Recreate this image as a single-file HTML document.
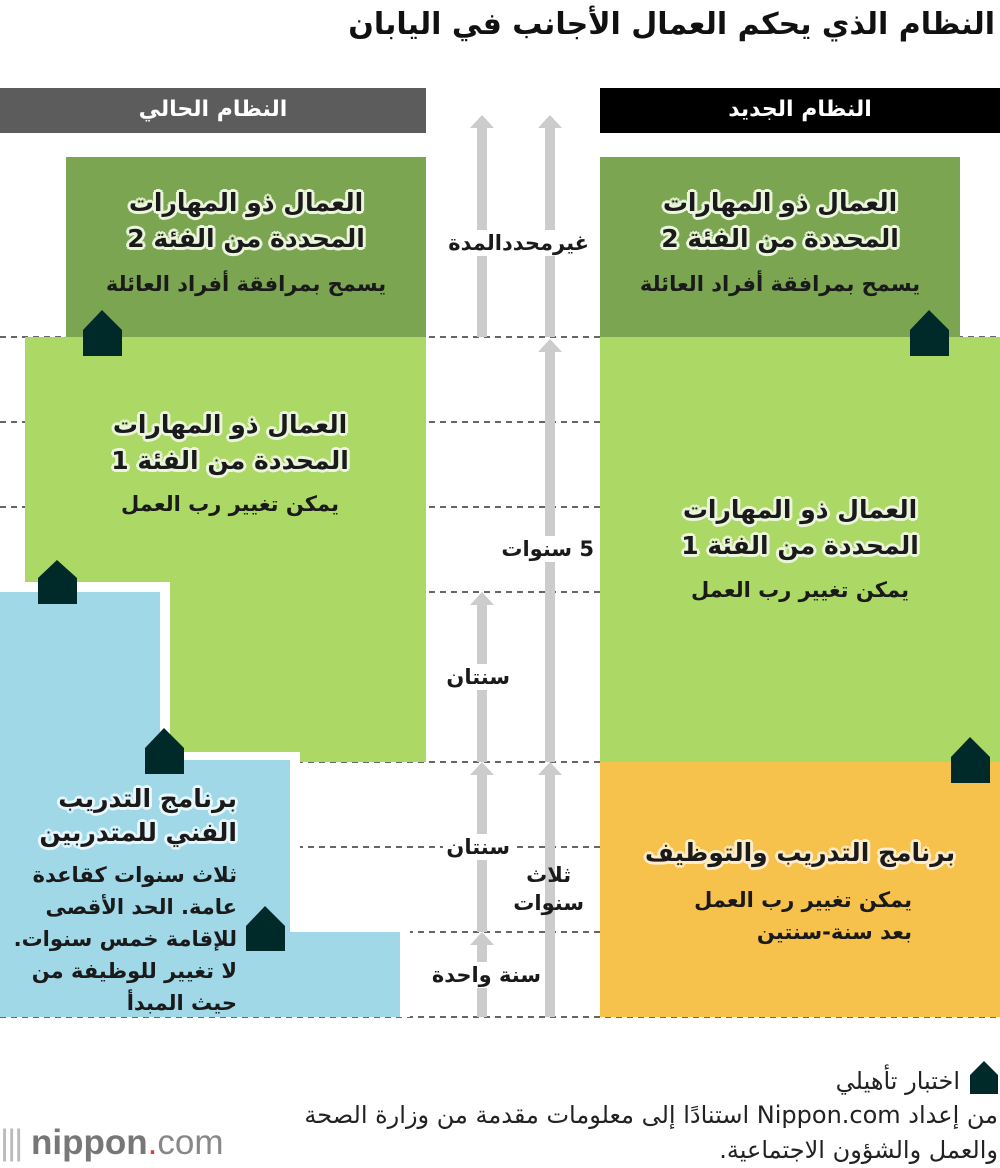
<!DOCTYPE html>
<html><head><meta charset="utf-8"><style>
body{margin:0;width:1000px;height:1168px;position:relative;background:#fff;overflow:hidden;font-family:"DejaVu Sans","Liberation Sans",sans-serif;}
.t{position:absolute;direction:rtl;white-space:nowrap;color:#1a1a1a;font-weight:bold;}
.c{text-align:center;}
.h{font-size:25px;line-height:36px;}
.s{font-size:21px;line-height:32px;}
.hg{text-shadow:0 0 3px #eaf5dc,2px 2px 0 #eaf5dc,-2px -2px 0 #eaf5dc,2px -2px 0 #eaf5dc,-2px 2px 0 #eaf5dc,0 3px 0 #eaf5dc,0 -3px 0 #eaf5dc,3px 0 0 #eaf5dc,-3px 0 0 #eaf5dc;}
.hb{text-shadow:2px 2px 0 #e6f6fb,-2px -2px 0 #e6f6fb,2px -2px 0 #e6f6fb,-2px 2px 0 #e6f6fb,0 3px 0 #e6f6fb,0 -3px 0 #e6f6fb,3px 0 0 #e6f6fb,-3px 0 0 #e6f6fb;}
.hy{text-shadow:2px 2px 0 #fdeccb,-2px -2px 0 #fdeccb,2px -2px 0 #fdeccb,-2px 2px 0 #fdeccb,0 3px 0 #fdeccb,0 -3px 0 #fdeccb,3px 0 0 #fdeccb,-3px 0 0 #fdeccb;}
.lab{position:absolute;direction:rtl;white-space:nowrap;font-weight:bold;font-size:21px;color:#1a1a1a;background:#fff;padding:0 3px;line-height:26px;}
</style></head><body>
<svg width="1000" height="1168" style="position:absolute;left:0;top:0">
<g stroke="#666" stroke-width="2" stroke-dasharray="6,5">
<line x1="0" y1="337" x2="1000" y2="337"/><line x1="0" y1="422" x2="1000" y2="422"/>
<line x1="0" y1="507" x2="1000" y2="507"/><line x1="0" y1="592" x2="1000" y2="592"/>
<line x1="0" y1="762" x2="1000" y2="762"/><line x1="0" y1="847" x2="1000" y2="847"/>
<line x1="0" y1="932" x2="1000" y2="932"/><line x1="0" y1="1017" x2="1000" y2="1017"/>
</g>
<rect x="0" y="88" width="426" height="45" fill="#5c5c5c"/>
<rect x="600" y="88" width="400" height="45" fill="#000"/>
<rect x="66" y="157" width="360" height="180" fill="#7ca552"/>
<rect x="600" y="157" width="360" height="180" fill="#7ca552"/>
<rect x="25" y="337" width="401" height="425" fill="#acd865"/>
<rect x="600" y="337" width="400" height="425" fill="#acd865"/>
<rect x="600" y="762" width="400" height="255" fill="#f7c24c"/>
<polygon points="0,582 170,582 170,752 300,752 300,922 410,922 410,1017 0,1017" fill="#fff"/>
<polygon points="0,592 160,592 160,760 290,760 290,932 400,932 400,1017 0,1017" fill="#a0d8e8"/>
<g fill="#cccccc">
<polygon points="482,115 494,128 487,128 487,337 477,337 477,128 470,128"/>
<polygon points="550,115 562,128 555,128 555,337 545,337 545,128 538,128"/>
<polygon points="550,339 562,352 555,352 555,762 545,762 545,352 538,352"/>
<polygon points="482,592 494,605 487,605 487,762 477,762 477,605 470,605"/>
<polygon points="482,762 494,775 487,775 487,932 477,932 477,775 470,775"/>
<polygon points="550,762 562,775 555,775 555,1017 545,1017 545,775 538,775"/>
<polygon points="482,932 494,945 487,945 487,1017 477,1017 477,945 470,945"/>
</g>
<g fill="#00292a">
<polygon points="83,330 102,310 122,330 122,356 83,356"/>
<polygon points="38,578 57,560 77,578 77,604 38,604"/>
<polygon points="145,748 164,728 184,748 184,774 145,774"/>
<polygon points="246,926 265,906 285,926 285,951 246,951"/>
<polygon points="910,330 929,310 949,330 949,356 910,356"/>
<polygon points="951,757 970,737 990,757 990,783 951,783"/>
<polygon points="970,1075 984,1061 998,1075 998,1094 970,1094"/>
</g>
</svg>
<div class="t" style="right:5px;top:7px;font-size:30px;line-height:36px;color:#111">النظام الذي يحكم العمال الأجانب في اليابان</div>
<div class="t c" style="left:0;width:426px;top:94px;font-size:22px;line-height:32px;color:#fff">النظام الحالي</div>
<div class="t c" style="left:600px;width:400px;top:94px;font-size:22px;line-height:32px;color:#fff">النظام الجديد</div>

<div class="t c h hg" style="left:66px;width:360px;top:185px">العمال ذو المهارات<br>المحددة من الفئة 2</div>
<div class="t c s" style="left:66px;width:360px;top:268px">يسمح بمرافقة أفراد العائلة</div>
<div class="t c h hg" style="left:600px;width:360px;top:185px">العمال ذو المهارات<br>المحددة من الفئة 2</div>
<div class="t c s" style="left:600px;width:360px;top:268px">يسمح بمرافقة أفراد العائلة</div>

<div class="t c h hg" style="left:25px;width:410px;top:407px">العمال ذو المهارات<br>المحددة من الفئة 1</div>
<div class="t c s" style="left:25px;width:410px;top:488px">يمكن تغيير رب العمل</div>
<div class="t c h hg" style="left:600px;width:400px;top:492px">العمال ذو المهارات<br>المحددة من الفئة 1</div>
<div class="t c s" style="left:600px;width:400px;top:574px">يمكن تغيير رب العمل</div>

<div class="t h hb" style="right:763px;top:782px;line-height:34px">برنامج التدريب<br>الفني للمتدربين</div>
<div class="t s" style="right:763px;top:859px;line-height:32px">ثلاث سنوات كقاعدة<br>عامة. الحد الأقصى<br>للإقامة خمس سنوات.<br>لا تغيير للوظيفة من<br>حيث المبدأ</div>

<div class="t c h hy" style="left:600px;width:400px;top:835px">برنامج التدريب والتوظيف</div>
<div class="t s" style="right:88px;top:884px">يمكن تغيير رب العمل<br>بعد سنة-سنتين</div>

<div class="lab" style="right:408px;top:230px">غيرمحددالمدة</div>
<div class="lab" style="right:403px;top:536px">5 سنوات</div>
<div class="lab" style="right:487px;top:664px">سنتان</div>
<div class="lab" style="right:487px;top:834px">سنتان</div>
<div class="lab" style="right:413px;top:861px;text-align:center;line-height:28px;background:transparent">ثلاث<br>سنوات</div>
<div class="lab" style="right:456px;top:962px">سنة واحدة</div>

<div class="t" style="right:40px;top:1067px;font-size:24px;font-weight:normal;color:#222">اختبار تأهيلي</div>
<div class="t" style="right:2px;top:1098px;font-size:24px;font-weight:normal;line-height:35px;color:#222">من إعداد Nippon.com استنادًا إلى معلومات مقدمة من وزارة الصحة<br>والعمل والشؤون الاجتماعية.</div>
<div style="position:absolute;left:0;top:1122px;font-family:'Liberation Sans',sans-serif;font-size:35px;color:#888;line-height:42px;white-space:nowrap"><span style="letter-spacing:-2px;color:#bbb">|||</span> <b style="color:#777">nippon</b><span style="color:#e33">.</span>com</div>
</body></html>
